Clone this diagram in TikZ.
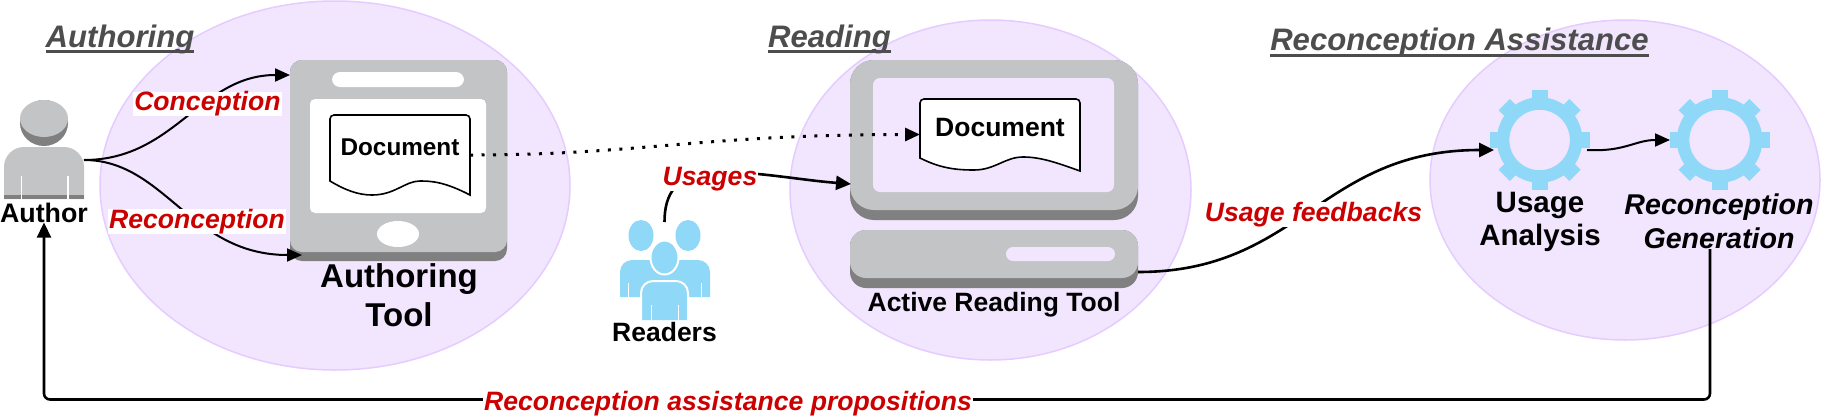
\documentclass[tikz,border=0pt]{standalone}
\usepackage{fontspec}
\setmainfont{Liberation Sans}
\usepackage{tikz}
\usetikzlibrary{arrows.meta, shapes.geometric}
\definecolor{zonefill}{HTML}{F2E6FF}
\definecolor{zoneline}{HTML}{E5CCFF}
\definecolor{devicegray}{HTML}{C3C4C6}
\definecolor{devicedark}{HTML}{808080}
\definecolor{userblue}{HTML}{8FD8F8}
\definecolor{labelred}{HTML}{CC0000}
\definecolor{titlegray}{HTML}{4D4D4D}
\newcommand{\txtsize}[1]{\fontsize{#1}{#1}\selectfont\bfseries}
\newcommand{\titleline}[1]{\setbox0\hbox{#1}\rlap{\rule[-6pt]{\wd0}{2.8pt}}\box0}
\tikzset{
    size/.style 2 args={minimum width=#1pt, minimum height=#2pt},
    zone/.style={ellipse, draw=zoneline, line width=1.5pt, fill=zonefill, inner sep=0pt, outer sep=0pt},
    panel/.style={rectangle, inner sep=0pt, outer sep=0pt},
    disc/.style={ellipse, inner sep=0pt, outer sep=0pt},
    title/.style={font=\txtsize{31.1}\itshape, text=titlegray, inner sep=0pt},
    tag/.style={font=\txtsize{26.6}\itshape, text=labelred, fill=white, inner xsep=1pt, inner ysep=0pt},
    caption/.style={font=\txtsize{26.5}, align=center, inner sep=0pt},
    docline/.style={draw=black, line width=1.6pt},
    arrow/.style={line width=2pt, -{Triangle[length=15pt, width=13pt]}},
    bigarrow/.style={line width=2.6pt, -{Triangle[length=15pt, width=14pt]}},
    dotarrow/.style={line width=3pt, dash pattern=on 3pt off 8.5pt, -{Triangle[length=15pt, width=13pt]}}
}
\begin{document}
\begin{tikzpicture}[x=1pt, y=-1pt]
    \useasboundingbox (0,0) rectangle (1840,416);
    \fill[white] (0,0) rectangle (1840,416);

    \node[zone, size={470}{369}] (authoringzone) at (335,185.5) {};
    \node[zone, size={401}{340}] (readingzone) at (990.5,190) {};
    \node[zone, size={390}{320}] (assistzone) at (1625,180) {};

    % author
    \node[disc, fill=devicedark, size={48}{46}] (authorshade) at (44,123) {};
    \node[disc, fill=devicegray, size={48}{37}] (authorhead) at (44,118.5) {};
    \fill[devicegray, rounded corners=20pt] (4,199) -- (4,147) -- (84,147) -- (84,199);
    \fill[devicedark] (4,195) rectangle (84,199);
    \fill[white] (20.5,176) rectangle (22,199);
    \fill[white] (67,176) rectangle (68.5,199);
    \coordinate (authorhand) at (84,160);
    \node[caption, font=\txtsize{26.8}] (authorname) at (44,212.5) {Author};

    % authoring tablet
    \node[panel, fill=devicedark, rounded corners=12pt, size={217}{201}] (tabletbase) at (398.5,160.5) {};
    \node[panel, fill=devicegray, rounded corners=12pt, size={217}{192}] (tablet) at (398.5,156) {};
    \node[panel, fill=white, rounded corners=8pt, size={132}{15}] (tabletslot) at (398,79.5) {};
    \node[panel, fill=white, rounded corners=5pt, size={176}{114}] (tabletscreen) at (398,156) {};
    \node[disc, fill=white, size={42}{26}] (tabletbutton) at (398,234) {};
    \draw[docline, fill=white] (330,181) [rounded corners=4pt] -- (330,115) -- (470,115) -- (470,150) [sharp corners] -- (470,195)
        .. controls (445,182) and (432,181) .. (420,181)
        .. controls (405,181) and (395,195) .. (372,195)
        .. controls (358,195) and (345,190) .. (330,181) -- cycle;
    \node[panel, size={140}{80}] (docauthoring) at (400,155) {};
    \node[caption, font=\txtsize{24.3}] (docauthoringtxt) at (400,147) {Document};
    \node[caption, font=\txtsize{33}] (tabletname) at (399,295) {Authoring\\[6pt]Tool};
    \coordinate (tabletup) at (290,75);
    \coordinate (tabletdown) at (302,255);

    % reading computer
    \node[panel, fill=devicedark, rounded corners=24pt, size={288}{160}] (monitorbase) at (994,140) {};
    \node[panel, fill=devicegray, rounded corners=24pt, size={288}{150}] (monitor) at (994,135) {};
    \node[panel, fill=zonefill, rounded corners=7pt, size={241}{114}] (monitorscreen) at (993.5,135) {};
    \node[panel, fill=devicedark, rounded corners=16pt, size={288}{58}] (deskbase) at (994,259) {};
    \node[panel, fill=devicegray, rounded corners=16pt, size={288}{48}] (desk) at (994,254) {};
    \node[panel, fill=zonefill, rounded corners=7pt, size={109}{14}] (deskslot) at (1060.5,254) {};
    \draw[docline, fill=white] (920,158) [rounded corners=4pt] -- (920,99) -- (1080,99) -- (1080,130) [sharp corners] -- (1080,171)
        .. controls (1055,162) and (1040,157) .. (1023,157)
        .. controls (1005,157) and (995,170) .. (974,170)
        .. controls (955,170) and (940,168) .. (920,158) -- cycle;
    \node[panel, size={160}{71}] (docreading) at (1000,134.5) {};
    \node[caption] (docreadingtxt) at (1000,128) {Document};
    \node[caption] (monitorname) at (994,304.5) {Active Reading Tool};
    \coordinate (monitorleft) at (851,184);
    \coordinate (deskright) at (1138,272);

    % readers
    \node[disc, fill=userblue, size={25}{31}] (readerleft) at (641,235.5) {};
    \node[disc, fill=userblue, size={25}{31}] (readerright) at (688,235.5) {};
    \fill[userblue, rounded corners=12pt] (620,297) -- (620,260) -- (710,260) -- (710,297);
    \fill[white] (627.5,283) rectangle (628.5,297);
    \fill[white] (700.5,283) rectangle (701.5,297);
    \node[disc, fill=userblue, draw=white, line width=2pt, size={28}{34}] (readerfront) at (664.5,257.5) {};
    \fill[userblue, rounded corners=12pt, draw=white, line width=2pt] (641,320) -- (641,281) -- (688,281) -- (688,320);
    \fill[white] (651,305) rectangle (652,320);
    \fill[white] (677.5,305) rectangle (678.5,320);
    \coordinate (readerstop) at (664.5,222);
    \node[caption] (readersname) at (664.5,332) {Readers};

    % gears
    \foreach \a in {0,45,...,315} {
        \fill[userblue, shift={(1539.6,140)}, rotate=\a] (-8,-50) rectangle (8,0);
        \fill[userblue, shift={(1719.6,140)}, rotate=\a] (-8,-50) rectangle (8,0);
    }
    \node[circle, draw=userblue, line width=12.5pt, fill=zonefill, inner sep=0pt, outer sep=0pt, minimum size=73pt] (gearusage) at (1539.6,140) {};
    \node[circle, draw=userblue, line width=12.5pt, fill=zonefill, inner sep=0pt, outer sep=0pt, minimum size=73pt] (geargen) at (1719.6,140) {};
    \coordinate (gearusagein) at (1494,150);
    \coordinate (gearusageout) at (1587,150);
    \coordinate (geargenin) at (1670,140);
    \node[caption, font=\txtsize{29.5}] (usagename) at (1540,221.5) {Usage\\[3.5pt]Analysis};
    \node[caption, font=\txtsize{28.6}\itshape] (genname) at (1719,221) {Reconception\\[5pt]Generation};
    \coordinate (genout) at (1710,249);

    % connectors
    \draw[arrow] (authorhand) .. controls (175,160) and (200,75) .. (tabletup);
    \draw[arrow] (authorhand) .. controls (165,160) and (190,255) .. (tabletdown);
    \draw[dotarrow] (docauthoring.east) .. controls (640,155) and (700,134.5) .. (docreading.west);
    \draw[bigarrow] (readerstop) .. controls (664.5,195) and (675,172) .. (720,172) .. controls (760,172) and (800,180) .. (monitorleft);
    \draw[bigarrow] (deskright) .. controls (1300,272) and (1320,150) .. (gearusagein);
    \draw[arrow] (gearusageout) .. controls (1625,152) and (1635,140) .. (geargenin);
    \draw[bigarrow, rounded corners=6pt] (genout) -- (1710,399.5) -- (44,399.5) -- (authorname.south);

    % labels
    \node[tag] (conceptiontag) at (207.4,104) {Conception};
    \node[tag] (reconceptiontag) at (197,221.5) {Reconception};
    \node[tag] (usagestag) at (710,179.5) {Usages};
    \node[tag] (feedbacktag) at (1313.5,214.5) {Usage feedbacks};
    \node[tag] (propositionstag) at (728,404) {Reconception assistance propositions};

    \node[title] (authoringtitle) at (120,39) {\titleline{Authoring}};
    \node[title] (readingtitle) at (829.5,39) {\titleline{Reading}};
    \node[title] (assisttitle) at (1459.5,42.5) {\titleline{Reconception Assistance}};
\end{tikzpicture}
\end{document}
